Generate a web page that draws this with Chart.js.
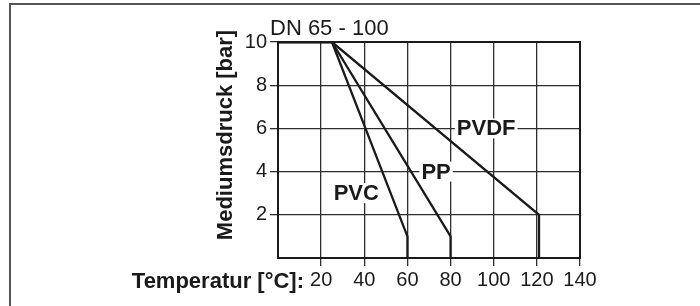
<!DOCTYPE html>
<html>
<head>
<meta charset="utf-8">
<script src="https://cdn.jsdelivr.net/npm/chart.js@4/dist/chart.umd.min.js"></script>
<style>
    body { margin: 0; background: #fff; }
    canvas { display: block; }
</style>
</head>
<body>
<canvas id="pressureChart" width="700" height="306"></canvas>
<script>
// temperature / pressure points
var pvcTemp = [0, 25, 60, 60];
var pvcBar = [10, 10, 1, 0];
var ppTemp = [0, 25, 80, 80];
var ppBar = [10, 10, 1, 0];
var pvdfTemp = [0, 25, 121, 121];
var pvdfBar = [10, 10, 2, 0];

// curve labels: name, temperature, pressure
var curveNames = ['PVC', 'PP', 'PVDF'];
var labelTemp = [36.3, 73.3, 96.5];
var labelBar = [3, 4, 6];

var title = 'DN 65 - 100';
var xTitle = 'Temperatur [°C]:';
var yTitle = 'Mediumsdruck [bar]';

var ink = '#1a1a1a';
var gridInk = '#2e2e2e';
var fontFamily = '"Liberation Sans", Arial, Helvetica, sans-serif';

function toPoints(xs, ys) {
    return xs.map(function (x, i) {
        return {x: x, y: ys[i]};
    });
}

function lineSet(label, xs, ys) {
    return {
        label: label,
        data: toPoints(xs, ys),
        borderColor: ink,
        borderWidth: 2.3,
        pointRadius: 0,
        fill: false,
        tension: 0
    };
}

var decorations = {
    id: 'decorations',
    beforeDraw: function (chart) {
        var ctx = chart.ctx;
        ctx.save();
        ctx.fillStyle = '#fff';
        ctx.fillRect(0, 0, chart.width, chart.height);
        // outer frame of the figure
        ctx.strokeStyle = '#555';
        ctx.lineWidth = 2;
        ctx.beginPath();
        ctx.moveTo(10, chart.height + 2);
        ctx.lineTo(10, 4);
        ctx.lineTo(chart.width + 2, 4);
        ctx.stroke();
        ctx.restore();
    },
    afterDatasetsDraw: function (chart) {
        var ctx = chart.ctx;
        var area = chart.chartArea;
        var xs = chart.scales.x;
        var ys = chart.scales.y;
        ctx.save();

        // plot frame
        ctx.strokeStyle = ink;
        ctx.lineWidth = 2;
        ctx.strokeRect(area.left, area.top, area.right - area.left, area.bottom - area.top);

        // curve names on white boxes
        ctx.font = 'bold 22px ' + fontFamily;
        ctx.textAlign = 'center';
        ctx.textBaseline = 'middle';
        curveNames.forEach(function (name, i) {
            var px = xs.getPixelForValue(labelTemp[i]);
            var py = ys.getPixelForValue(labelBar[i]);
            var w = ctx.measureText(name).width;
            ctx.fillStyle = '#fff';
            ctx.fillRect(px - w / 2 - 2, py - 10, w + 4, 20);
            ctx.fillStyle = ink;
            ctx.fillText(name, px, py + 1);
        });

        // title above plot
        ctx.font = '22px ' + fontFamily;
        ctx.textAlign = 'left';
        ctx.textBaseline = 'alphabetic';
        ctx.fillText(title, area.left - 8, 35);

        // x axis title, in line with the tick labels
        ctx.font = 'bold 22px ' + fontFamily;
        ctx.textAlign = 'right';
        ctx.fillText(xTitle, 304, 288);

        // y axis title, rotated
        ctx.translate(232, 135);
        ctx.rotate(-Math.PI / 2);
        ctx.textAlign = 'center';
        ctx.fillText(yTitle, 0, 0);

        ctx.restore();
    }
};

var chartConfig = {
    type: 'line',
    data: {
        datasets: [
            lineSet(curveNames[0], pvcTemp, pvcBar),
            lineSet(curveNames[1], ppTemp, ppBar),
            lineSet(curveNames[2], pvdfTemp, pvdfBar)
        ]
    },
    options: {
        responsive: false,
        animation: false,
        layout: {
            padding: {left: 0, top: 42, right: 120, bottom: 0}
        },
        plugins: {
            legend: {display: false},
            tooltip: {enabled: false}
        },
        scales: {
            x: {
                type: 'linear',
                min: 0,
                max: 140,
                afterFit: function (scale) {
                    scale.height = 48;
                },
                border: {display: false},
                grid: {
                    color: gridInk,
                    lineWidth: 1.3,
                    tickLength: 8,
                    tickColor: function (c) {
                        return c.tick && c.tick.value === 0 ? 'rgba(0,0,0,0)' : gridInk;
                    }
                },
                ticks: {
                    stepSize: 20,
                    color: ink,
                    padding: 2,
                    maxRotation: 0,
                    font: {family: fontFamily, size: 20},
                    callback: function (v) {
                        return v === 0 ? '' : v;
                    }
                }
            },
            y: {
                type: 'linear',
                min: 0,
                max: 10,
                afterFit: function (scale) {
                    scale.width = 278;
                },
                border: {display: false},
                grid: {
                    color: gridInk,
                    lineWidth: 1.3,
                    tickLength: 8,
                    tickColor: function (c) {
                        return c.tick && c.tick.value === 0 ? 'rgba(0,0,0,0)' : gridInk;
                    }
                },
                ticks: {
                    stepSize: 1,
                    color: ink,
                    padding: 3,
                    font: {family: fontFamily, size: 20},
                    callback: function (v) {
                        return (v > 0 && v % 2 === 0) ? v : '';
                    }
                }
            }
        }
    },
    plugins: [decorations]
};

var chartCtx = document.getElementById('pressureChart').getContext('2d');
new Chart(chartCtx, chartConfig);
</script>
</body>
</html>
